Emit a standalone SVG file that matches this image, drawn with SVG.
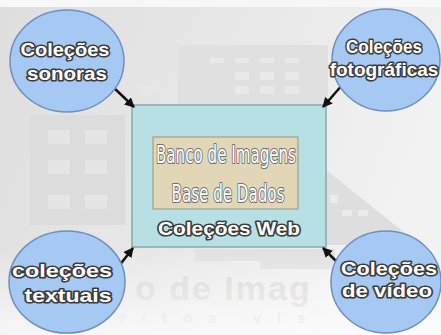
<svg xmlns="http://www.w3.org/2000/svg" width="441" height="335" viewBox="0 0 441 335">
<defs>
<linearGradient id="bg" x1="0" y1="0" x2="1" y2="0.3">
<stop offset="0" stop-color="#dedede"/>
<stop offset="0.5" stop-color="#e7e7e7"/>
<stop offset="1" stop-color="#f2f2f2"/>
</linearGradient>
<linearGradient id="fade" x1="0" y1="0" x2="0" y2="1">
<stop offset="0" stop-color="#ffffff" stop-opacity="0"/>
<stop offset="1" stop-color="#ffffff" stop-opacity="0.7"/>
</linearGradient>
<marker id="ah" viewBox="0 0 10 10" refX="9" refY="5" markerWidth="4" markerHeight="4" orient="auto">
<path d="M0,0 L10,5 L0,10 z" fill="#111"/>
</marker>
</defs>
<style>
.bubble{fill:#a6c9f3;stroke:#6d8fc0;stroke-width:1.5}
.ct{font-family:"Liberation Sans",Arial,sans-serif;font-weight:bold;font-size:19px;fill:#ffffff;stroke:#3c3c3c;stroke-width:3.2;paint-order:stroke;stroke-linejoin:round;text-anchor:middle}
.nt{font-family:"Liberation Sans Narrow","DejaVu Sans Condensed","Liberation Sans",sans-serif;font-size:24px;fill:#ffffff;stroke:#707070;stroke-width:2.2;paint-order:stroke;stroke-linejoin:round;text-anchor:middle}
.wm{font-family:"Liberation Sans",Arial,sans-serif;font-weight:bold;fill:#d8d8d8}
.conn{stroke:#111;stroke-width:2.5;fill:none;marker-end:url(#ah)}
</style>
<rect x="0" y="0" width="441" height="335" fill="url(#bg)"/>
<rect x="0" y="0" width="441" height="7" fill="#f7f7f7"/>
<g id="watermark">
<rect x="178" y="45" width="150" height="62" fill="#e0e0e0"/>
<rect x="210" y="58" width="14" height="5" fill="#e9e9e9"/>
<rect x="235" y="58" width="14" height="5" fill="#e9e9e9"/>
<rect x="260" y="58" width="14" height="5" fill="#e9e9e9"/>
<rect x="285" y="58" width="14" height="5" fill="#e9e9e9"/>
<rect x="235" y="72" width="14" height="8" fill="#e9e9e9"/>
<rect x="260" y="72" width="14" height="8" fill="#e9e9e9"/>
<rect x="285" y="72" width="14" height="8" fill="#e9e9e9"/>
<rect x="140" y="86" width="30" height="8" fill="#e6e6e6"/>
<rect x="235" y="86" width="14" height="8" fill="#e9e9e9"/>
<rect x="260" y="86" width="14" height="8" fill="#e9e9e9"/>
<rect x="285" y="86" width="14" height="8" fill="#e9e9e9"/>
<rect x="30" y="115" width="95" height="110" fill="#dcdcdc"/>
<rect x="48" y="130" width="22" height="14" fill="#e5e5e5"/>
<rect x="85" y="130" width="22" height="14" fill="#e5e5e5"/>
<rect x="48" y="160" width="22" height="14" fill="#e5e5e5"/>
<rect x="85" y="160" width="22" height="14" fill="#e5e5e5"/>
<rect x="48" y="195" width="22" height="14" fill="#e5e5e5"/>
<rect x="85" y="195" width="22" height="14" fill="#e5e5e5"/>
<polygon points="326,170 326,245 420,245" fill="#dedede"/>
<rect x="330" y="195" width="8" height="8" fill="#ebebeb"/>
<rect x="342" y="210" width="10" height="6" fill="#ebebeb"/>
<rect x="358" y="210" width="10" height="6" fill="#ebebeb"/>
<rect x="195" y="249" width="140" height="12" fill="#e1e1e1"/>
<rect x="260" y="249" width="75" height="20" fill="#e1e1e1"/>
<text class="wm" x="135" y="300" font-size="34" letter-spacing="2">o de Imag</text>
<text class="wm" x="120" y="323" font-size="15" font-weight="normal" fill="#dfdfdf" letter-spacing="16">ritos vis</text>
<rect x="0" y="250" width="441" height="85" fill="url(#fade)"/>
</g>
<g id="web">
<rect x="132" y="105" width="194" height="142" fill="#b7e0e4" stroke="#8aa8aa" stroke-width="1.5"/>
<text class="ct" x="229" y="235" font-size="22" textLength="142" lengthAdjust="spacingAndGlyphs">Coleções Web</text>
</g>
<g id="banco">
<rect x="153" y="137" width="145" height="72" fill="#e1d6b6" stroke="#a0a08c" stroke-width="1.2"/>
<text class="nt" x="226" y="163" textLength="140" lengthAdjust="spacingAndGlyphs">Banco de Imagens</text>
<text class="nt" x="228" y="202" textLength="113" lengthAdjust="spacingAndGlyphs">Base de Dados</text>
</g>
<g id="connectors">
<line class="conn" x1="113" y1="87" x2="134" y2="107"/>
<line class="conn" x1="343" y1="84" x2="323" y2="107"/>
<line class="conn" x1="119" y1="266" x2="133" y2="248"/>
<line class="conn" x1="338" y1="263" x2="323" y2="248"/>
</g>
<g id="sonoras">
<ellipse class="bubble" cx="67" cy="61" rx="57" ry="51"/>
<text class="ct" x="65" y="56" textLength="89" lengthAdjust="spacingAndGlyphs">Coleções</text>
<text class="ct" x="67" y="80" textLength="80" lengthAdjust="spacingAndGlyphs">sonoras</text>
</g>
<g id="fotograficas">
<ellipse class="bubble" cx="386" cy="60" rx="54" ry="51"/>
<text class="ct" x="384" y="53" font-size="17" textLength="76" lengthAdjust="spacingAndGlyphs">Coleções</text>
<text class="ct" x="384" y="76" font-size="16">fotográficas</text>
</g>
<g id="textuais">
<ellipse class="bubble" cx="67" cy="282" rx="58" ry="51"/>
<text class="ct" x="62" y="277" textLength="100" lengthAdjust="spacingAndGlyphs">coleções</text>
<text class="ct" x="68" y="302" textLength="87" lengthAdjust="spacingAndGlyphs">textuais</text>
</g>
<g id="video">
<ellipse class="bubble" cx="386" cy="282" rx="55" ry="51"/>
<text class="ct" x="389" y="275" textLength="96" lengthAdjust="spacingAndGlyphs">Coleções</text>
<text class="ct" x="387" y="297" textLength="90" lengthAdjust="spacingAndGlyphs">de vídeo</text>
</g>
</svg>
